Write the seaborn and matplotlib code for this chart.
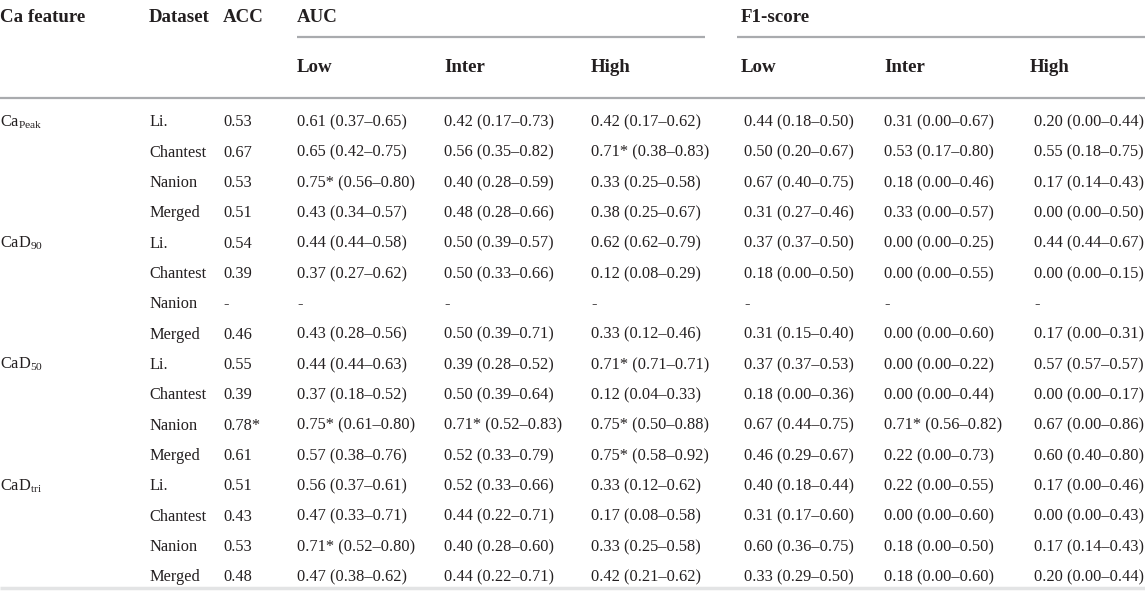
import matplotlib
matplotlib.use("Agg")
import matplotlib.pyplot as plt
import seaborn as sns

# 표 데이터
features = ["Ca$_{\\mathrm{Peak}}$", "CaD$_{\\mathrm{90}}$", "CaD$_{\\mathrm{50}}$", "CaD$_{\\mathrm{tri}}$"]
datasets = ["Li.", "Chantest", "Nanion", "Merged"]

acc = ["0.53", "0.67", "0.53", "0.51",
       "0.54", "0.39", "-", "0.46",
       "0.55", "0.39", "0.78*", "0.61",
       "0.51", "0.43", "0.53", "0.48"]

auc_low = ["0.61 (0.37–0.65)", "0.65 (0.42–0.75)", "0.75* (0.56–0.80)", "0.43 (0.34–0.57)",
           "0.44 (0.44–0.58)", "0.37 (0.27–0.62)", "-", "0.43 (0.28–0.56)",
           "0.44 (0.44–0.63)", "0.37 (0.18–0.52)", "0.75* (0.61–0.80)", "0.57 (0.38–0.76)",
           "0.56 (0.37–0.61)", "0.47 (0.33–0.71)", "0.71* (0.52–0.80)", "0.47 (0.38–0.62)"]

auc_inter = ["0.42 (0.17–0.73)", "0.56 (0.35–0.82)", "0.40 (0.28–0.59)", "0.48 (0.28–0.66)",
             "0.50 (0.39–0.57)", "0.50 (0.33–0.66)", "-", "0.50 (0.39–0.71)",
             "0.39 (0.28–0.52)", "0.50 (0.39–0.64)", "0.71* (0.52–0.83)", "0.52 (0.33–0.79)",
             "0.52 (0.33–0.66)", "0.44 (0.22–0.71)", "0.40 (0.28–0.60)", "0.44 (0.22–0.71)"]

auc_high = ["0.42 (0.17–0.62)", "0.71* (0.38–0.83)", "0.33 (0.25–0.58)", "0.38 (0.25–0.67)",
            "0.62 (0.62–0.79)", "0.12 (0.08–0.29)", "-", "0.33 (0.12–0.46)",
            "0.71* (0.71–0.71)", "0.12 (0.04–0.33)", "0.75* (0.50–0.88)", "0.75* (0.58–0.92)",
            "0.33 (0.12–0.62)", "0.17 (0.08–0.58)", "0.33 (0.25–0.58)", "0.42 (0.21–0.62)"]

f1_low = ["0.44 (0.18–0.50)", "0.50 (0.20–0.67)", "0.67 (0.40–0.75)", "0.31 (0.27–0.46)",
          "0.37 (0.37–0.50)", "0.18 (0.00–0.50)", "-", "0.31 (0.15–0.40)",
          "0.37 (0.37–0.53)", "0.18 (0.00–0.36)", "0.67 (0.44–0.75)", "0.46 (0.29–0.67)",
          "0.40 (0.18–0.44)", "0.31 (0.17–0.60)", "0.60 (0.36–0.75)", "0.33 (0.29–0.50)"]

f1_inter = ["0.31 (0.00–0.67)", "0.53 (0.17–0.80)", "0.18 (0.00–0.46)", "0.33 (0.00–0.57)",
            "0.00 (0.00–0.25)", "0.00 (0.00–0.55)", "-", "0.00 (0.00–0.60)",
            "0.00 (0.00–0.22)", "0.00 (0.00–0.44)", "0.71* (0.56–0.82)", "0.22 (0.00–0.73)",
            "0.22 (0.00–0.55)", "0.00 (0.00–0.60)", "0.18 (0.00–0.50)", "0.18 (0.00–0.60)"]

f1_high = ["0.20 (0.00–0.44)", "0.55 (0.18–0.75)", "0.17 (0.14–0.43)", "0.00 (0.00–0.50)",
           "0.44 (0.44–0.67)", "0.00 (0.00–0.15)", "-", "0.17 (0.00–0.31)",
           "0.57 (0.57–0.57)", "0.00 (0.00–0.17)", "0.67 (0.00–0.86)", "0.60 (0.40–0.80)",
           "0.17 (0.00–0.46)", "0.00 (0.00–0.43)", "0.17 (0.14–0.43)", "0.20 (0.00–0.44)"]

group_headers = ["AUC", "F1-score"]
sub_headers = ["Low", "Inter", "High"]

sns.set_theme(style="white")
plt.rcParams['font.family'] = ['Liberation Serif', 'DejaVu Serif']
plt.rcParams['mathtext.fontset'] = 'custom'
plt.rcParams['mathtext.rm'] = 'Liberation Serif'
plt.rcParams['mathtext.it'] = 'Liberation Serif:italic'
plt.rcParams['mathtext.bf'] = 'Liberation Serif:bold'

W, H = 1145, 591
fig = plt.figure(figsize=(W / 100, H / 100), dpi=100)
ax = fig.add_axes([0, 0, 1, 1])
ax.set_xlim(0, W)
ax.set_ylim(H, 0)
ax.axis("off")

TXT = "#231f20"
LINE = "#a9abae"
HFS = 13.6
DFS = 11.8

# 열 위치 (px)
col_x = [0, 149, 223, 297, 444, 591, 741, 884, 1030]
val_shift = [0, 0, 0, 0, 0, 0, 3, 0, 4]

# 헤더
for x, lab in zip(col_x[:3], ["Ca feature", "Dataset", "ACC"]):
    ax.text(x, 17, lab, fontsize=HFS, fontweight="bold", color=TXT, va="center", ha="left")
ax.text(col_x[3], 17, group_headers[0], fontsize=HFS, fontweight="bold", color=TXT, va="center")
ax.text(col_x[6], 17, group_headers[1], fontsize=HFS, fontweight="bold", color=TXT, va="center")
ax.plot([297, 705], [37, 37], color=LINE, lw=1.6, solid_capstyle="butt")
ax.plot([737, 1145], [37, 37], color=LINE, lw=1.6, solid_capstyle="butt")
for j, lab in enumerate(sub_headers * 2):
    ax.text(col_x[3 + j], 67, lab, fontsize=HFS, fontweight="bold", color=TXT, va="center")
ax.plot([0, W], [98, 98], color=LINE, lw=1.6, solid_capstyle="butt")
ax.plot([0, W], [588, 588], color="#e3e4e5", lw=2.5, solid_capstyle="butt")

# 본문 (기준선 정렬)
cols = [acc, auc_low, auc_inter, auc_high, f1_low, f1_inter, f1_high]
y0, dy = 121, 30.33
for i in range(16):
    y = y0 + i * dy + 5.4
    if i % 4 == 0:
        ax.text(col_x[0], y, features[i // 4], fontsize=DFS, color=TXT, va="baseline")
    ax.text(col_x[1], y, datasets[i % 4], fontsize=DFS, color=TXT, va="baseline")
    for k, c in enumerate(cols):
        ax.text(col_x[2 + k] + val_shift[2 + k], y, c[i], fontsize=DFS, color=TXT, va="baseline")

fig.savefig("out.png", dpi=100)
